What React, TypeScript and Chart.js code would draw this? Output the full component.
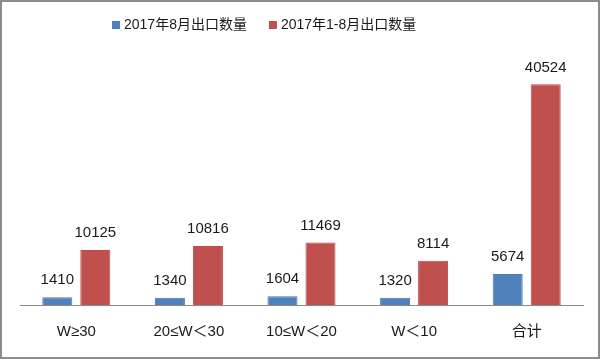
import React, { useEffect, useRef } from "react";
import { Chart, registerables } from "chart.js";

Chart.register(...registerables);

const categories = ["W≥30", "20≤W＜30", "10≤W＜20", "W＜10", "合计"];
const seriesNames = ["2017年8月出口数量", "2017年1-8月出口数量"];
const augValues = [1410, 1340, 1604, 1320, 5674];
const ytdValues = [10125, 10816, 11469, 8114, 40524];
const seriesColors = ["#4f81bd", "#c0504d"];

const FONT = "'Liberation Sans', 'Noto Sans CJK SC', sans-serif";

const valueLabels = {
  id: "valueLabels",
  afterDatasetsDraw(chart: any) {
    const ctx = chart.ctx;
    ctx.save();
    ctx.font = `15px ${FONT}`;
    ctx.fillStyle = "#1a1a1a";
    ctx.textAlign = "center";
    ctx.textBaseline = "middle";
    chart.data.datasets.forEach((ds: any, di: number) => {
      const meta = chart.getDatasetMeta(di);
      meta.data.forEach((bar: any, i: number) => {
        ctx.fillText(String(ds.data[i]), bar.x, bar.y - 17);
      });
    });
    ctx.restore();
  },
};

const topLegend = {
  id: "topLegend",
  afterDraw(chart: any) {
    const ctx = chart.ctx;
    ctx.save();
    ctx.font = `14px ${FONT}`;
    ctx.textBaseline = "middle";
    ctx.textAlign = "left";
    let x = 112;
    const cy = 25;
    chart.data.datasets.forEach((ds: any) => {
      ctx.fillStyle = ds.backgroundColor;
      ctx.fillRect(x, cy - 4, 8, 8);
      ctx.fillStyle = "#1a1a1a";
      ctx.fillText(ds.label, x + 12, cy);
      x += 12 + ctx.measureText(ds.label).width + 22;
    });
    ctx.restore();
  },
};

export default function App() {
  const ref = useRef<HTMLCanvasElement>(null);
  useEffect(() => {
    const chart = new Chart(ref.current!, {
      type: "bar",
      data: {
        labels: categories,
        datasets: [
          { label: seriesNames[0], data: augValues, backgroundColor: seriesColors[0], borderColor: "#4a7ab3", borderWidth: 1, barPercentage: 0.79, categoryPercentage: 0.675 },
          { label: seriesNames[1], data: ytdValues, backgroundColor: seriesColors[1], borderColor: "#b84c49", borderWidth: 1, barPercentage: 0.79, categoryPercentage: 0.675 },
        ],
      },
      options: {
        animation: false,
        responsive: false,
        layout: { padding: { left: 20, right: 17, top: 60, bottom: 0 } },
        plugins: {
          legend: { display: false },
          tooltip: { enabled: false },
        },
        scales: {
          x: {
            grid: { display: false, drawTicks: false },
            border: { display: true, color: "#8a8a8a", width: 1 },
            ticks: { color: "#1a1a1a", padding: 18, font: { family: FONT, size: 15 } },
          },
          y: { display: false, min: 0, max: 45000 },
        },
      },
      plugins: [valueLabels, topLegend],
    });
    return () => chart.destroy();
  }, []);
  return (
    <div style={{ position: "fixed", left: 0, top: 0, width: 600, height: 359, background: "#fff" }}>
      <canvas ref={ref} width={600} height={359} style={{ position: "absolute", left: 0, top: 0 }} />
      <div style={{ position: "absolute", left: 0, top: 0, width: 600, height: 359, boxSizing: "border-box", border: "2px solid #8c8c8c", pointerEvents: "none" }} />
    </div>
  );
}
